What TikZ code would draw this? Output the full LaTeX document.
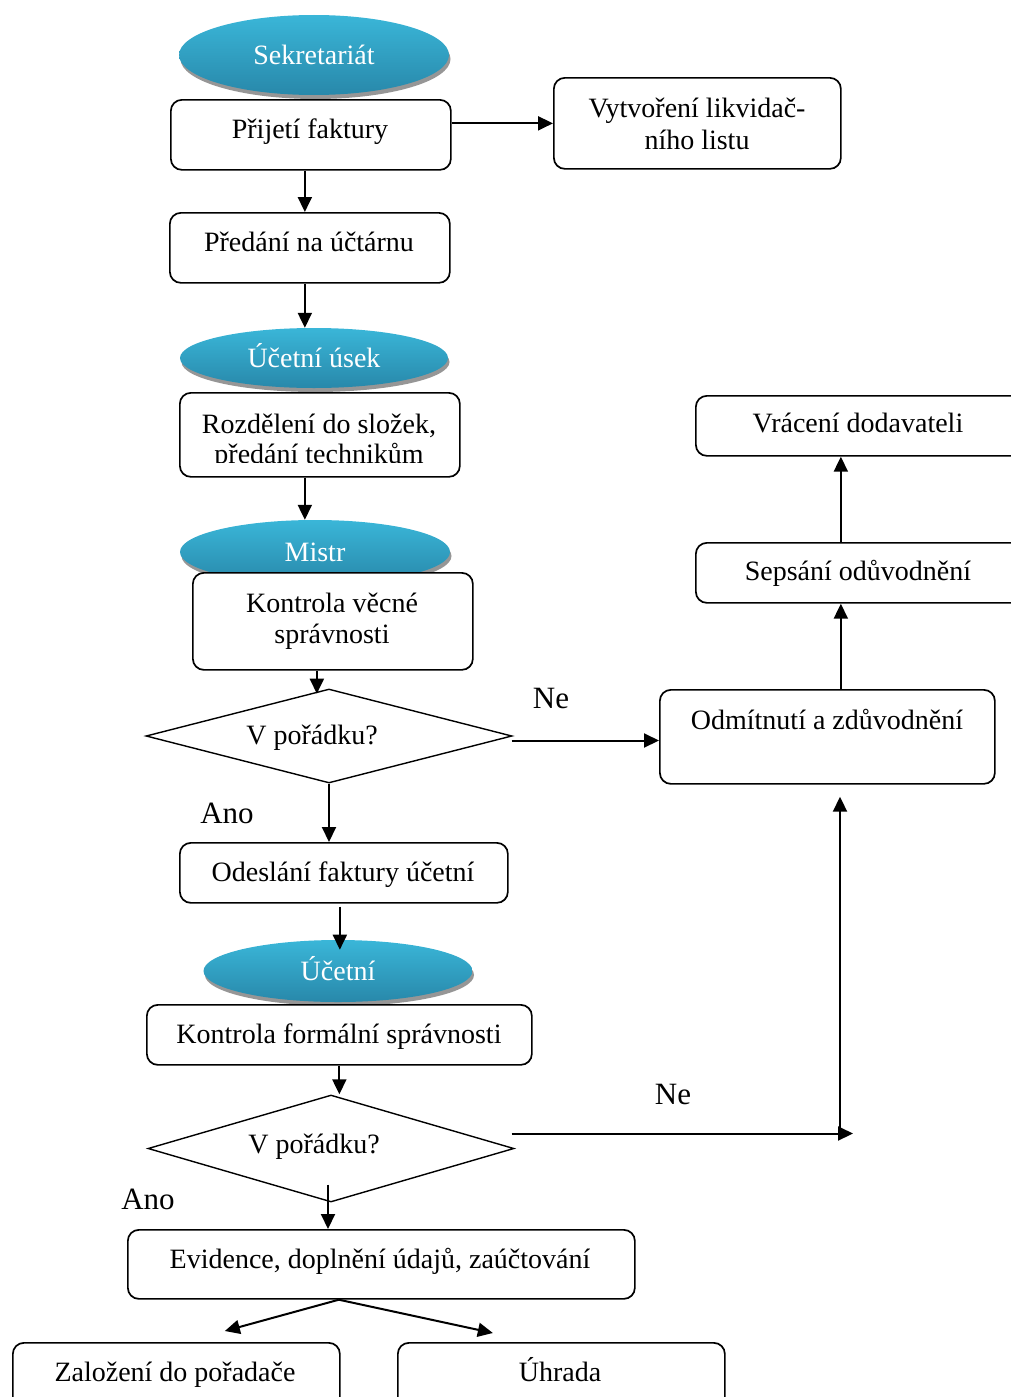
\documentclass[tikz,border=0pt]{standalone}
\usepackage{fontspec}
\setmainfont{Liberation Serif}
\usetikzlibrary{shapes.geometric,arrows.meta,shadows}

\definecolor{elltop}{RGB}{58,182,216}
\definecolor{ellmid}{RGB}{52,170,204}
\definecolor{ellbot}{RGB}{40,136,170}
\definecolor{shadowgray}{RGB}{150,150,150}

\begin{document}
\begin{tikzpicture}[x=1pt,y=-1pt,
  txt/.style={font=\fontsize{28}{31}\selectfont, inner sep=0, anchor=base},
  lbl/.style={font=\fontsize{31}{34}\selectfont, inner sep=0},
  box/.style={draw, line width=1.7pt, rounded corners=11pt, fill=white,
    anchor=north west, inner sep=0},
  ell/.style={ellipse, inner sep=0, shading=axis, top color=elltop,
    middle color=ellmid, bottom color=ellbot, text=white,
    font=\fontsize{28}{31}\selectfont, text height=19pt, text depth=0pt,
    drop shadow={shadow xshift=1.5pt, shadow yshift=-4pt, fill=shadowgray, opacity=1}},
  dia/.style={diamond, draw, line width=1.4pt, inner sep=0, fill=white},
  arr/.style={line width=2pt, -{Triangle[length=15pt,width=14pt]}},
  ln/.style={line width=2pt}
]
\useasboundingbox (0,0) rectangle (1011,1397);

% role headings
\node[ell, minimum width=270, minimum height=80] (e1) at (314,55) {Sekretariát};
\node[ell, minimum width=268, minimum height=60] (e2) at (314,358) {Účetní úsek};
\node[ell, minimum width=270, minimum height=64] (e3) at (315,552) {Mistr};
\node[ell, minimum width=269, minimum height=62] (e4) at (338,971) {Účetní};

% process boxes
\node[box, minimum width=280, minimum height=70] (p1) at (170,99) {};
\node[box, minimum width=287, minimum height=91] (p2) at (553,77) {};
\node[box, minimum width=280, minimum height=70] (p3) at (169,212) {};
\node[box, minimum width=280, minimum height=84] (p4) at (179,392) {};
\node[box, minimum width=280, minimum height=97] (p5) at (192,572) {};
\node[box, minimum width=328, minimum height=60] (od) at (179,842) {};
\node[box, minimum width=385, minimum height=60] (kf) at (146,1004) {};
\node[box, minimum width=507, minimum height=69] (ev) at (127,1229) {};
\node[box, minimum width=327, minimum height=75] (zal) at (12,1342) {};
\node[box, minimum width=327, minimum height=75] (uh) at (397,1342) {};
\node[box, minimum width=340, minimum height=60] (vr) at (695,395) {};
\node[box, minimum width=340, minimum height=60] (sep) at (695,542) {};
\node[box, minimum width=335, minimum height=94] (odm) at (659,689) {};

% decisions
\node[dia, minimum width=366, minimum height=94, aspect=3.9] (d1) at (329,736) {};
\node[dia, minimum width=366, minimum height=107, aspect=3.4] (d2) at (331,1148.5) {};

% box texts
\node[txt] (p1t) at (310,138) {Přijetí faktury};
\node[txt] (p2ta) at (697,117) {Vytvoření likvidač-};
\node[txt] (p2tb) at (697,149) {ního listu};
\node[txt] (p3t) at (309,251) {Předání na účtárnu};
\node[txt] (p4ta) at (319,433) {Rozdělení do složek,};
\begin{scope}
  \clip (179,392) rectangle (459,462.5);
  \node[txt] (p4tb) at (319,463) {předání technikům};
\end{scope}
\node[txt] (p5ta) at (332,612) {Kontrola věcné};
\node[txt] (p5tb) at (332,643) {správnosti};
\node[txt] (d1t) at (312,744) {V pořádku?};
\node[txt] (odt) at (343,881) {Odeslání faktury účetní};
\node[txt] (kft) at (339,1043) {Kontrola formální správnosti};
\node[txt] (d2t) at (314,1153) {V pořádku?};
\node[txt] (evt) at (380,1268) {Evidence, doplnění údajů, zaúčtování};
\node[txt] (zalt) at (175,1381) {Založení do pořadače};
\node[txt] (uht) at (560,1381) {Úhrada};
\node[txt] (vrt) at (858,432) {Vrácení dodavateli};
\node[txt] (sept) at (858,580) {Sepsání odůvodnění};
\node[txt] (odmt) at (827,729) {Odmítnutí a zdůvodnění};

% branch labels
\node[lbl] (ne1) at (551,698) {Ne};
\node[lbl] (ano1) at (227,813) {Ano};
\node[lbl] (ne2) at (673,1094) {Ne};
\node[lbl] (ano2) at (148,1199) {Ano};

% connectors
\draw[arr] (p1.east |- p2.west) -- (p2.west);
\draw[arr] ([xshift=-6pt]p1.south) -- ([xshift=-6pt]p1.south |- p3.north);
\draw[arr] ([xshift=-5pt]p3.south) -- ([xshift=-5pt]p3.south |- e2.north);
\draw[arr] ([xshift=-15pt]p4.south) -- ([xshift=-15pt]p4.south |- e3.north);
\draw[arr] ([xshift=-16pt]p5.south) -- ++(0,23);
\draw[arr] ([xshift=-1pt,yshift=-4.5pt]d1.east) -- ([yshift=-4.5pt]d1.east -| odm.west);
\draw[arr] (d1.south) -- (d1.south |- od.north);
\draw[arr] ([xshift=-4pt,yshift=-3pt]od.south) -- ++(0,43);
\draw[arr] (kf.south) -- (kf.south |- d2.north);
\coordinate (ne) at (853,1133);
\coordinate (jn) at (840,1133);
\draw[arr] ([xshift=-3pt,yshift=15pt]d2.east) -- ([yshift=15pt]d2.east -| ne);
\draw[arr] ([yshift=15pt]d2.east -| jn) -- ([yshift=-12pt]jn |- odm.south);
\draw[arr] ([xshift=13.5pt]odm.north) -- ([xshift=13.5pt]odm.north |- sep.south);
\draw[arr] ([xshift=-25pt]sep.north) -- ([xshift=-25pt]sep.north |- vr.south);
\draw[arr] ([xshift=-3pt,yshift=-36pt]d2.center) -- ([xshift=-3pt]d2.center |- ev.north);
\draw[arr] ([xshift=-42.5pt]ev.south) -- ([xshift=48.5pt,yshift=11pt]zal.north);
\draw[arr] ([xshift=-42.5pt]ev.south) -- ([xshift=-68.5pt,yshift=9pt]uh.north);
\end{tikzpicture}
\end{document}
